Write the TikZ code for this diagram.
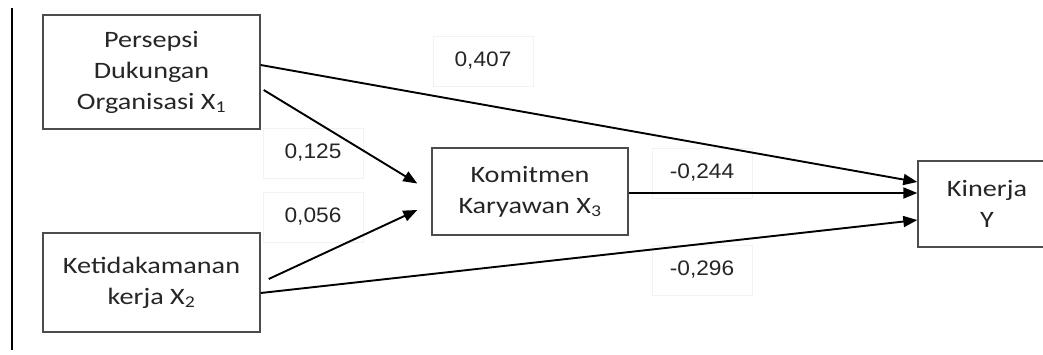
\documentclass[tikz,border=0pt]{standalone}
\usepackage{fontspec}
\usetikzlibrary{arrows.meta}
\newfontfamily\boxfont[FakeStretch=1.2]{Carlito}
\newfontfamily\lblfont[FakeStretch=1.08]{Liberation Sans}
\begin{document}
\begin{tikzpicture}[x=1pt,y=-1pt,
  varbox/.style={draw=black!70,line width=1.4pt,fill=white,inner sep=0pt,align=center,
    font=\boxfont\fontsize{23.5}{31}\selectfont,text=black!85},
  lbl/.style={draw=black!5,line width=0.6pt,inner sep=0pt,minimum width=100pt,minimum height=50pt,
    font=\lblfont\fontsize{21}{25}\selectfont,text=black!85},
  path/.style={line width=1.9pt,-{Triangle[length=14pt,width=11pt]}}]
\clip (0,0) rectangle (1043,354);
\fill[white] (0,0) rectangle (1043,354);
\draw[line width=1.4pt] (12,8) coordinate (bt) -- (12,350) coordinate (bb);
% labels
\node[lbl] (l1) at (483,61) {0,407};
\node[lbl] (l2) at (313,153) {0,125};
\node[lbl] (l3) at (313,217) {0,056};
\node[lbl] (l4) at (702,173) {-0,244};
\node[lbl] (l5) at (702,270) {-0,296};
% boxes
\node[varbox,minimum width=217pt,minimum height=114pt] (x1) at (151.5,72) {Persepsi\\Dukungan\\Organisasi X\textsubscript{1}};
\node[varbox,minimum width=217pt,minimum height=99pt] (x2) at (151.5,282.5) {Ketidakamanan\\kerja X\textsubscript{2}};
\node[varbox,minimum width=196pt,minimum height=87pt] (x3) at (530,191.5) {Komitmen\\Karyawan X\textsubscript{3}};
\node[varbox,minimum width=138pt,minimum height=86pt] (y) at (987,204) {Kinerja\\Y};
% paths
\draw[path] ([yshift=7pt]x1.east) -- ([yshift=22pt]y.west);
\draw[path] ([xshift=3pt,yshift=-18pt]x1.east) -- ([xshift=-14pt,yshift=8pt]x3.west);
\draw[path] ([xshift=8pt,yshift=3.5pt]x2.east) -- ([xshift=-14pt,yshift=-18.5pt]x3.west);
\draw[path] ([yshift=-10.5pt]x2.east) -- ([yshift=-16pt]y.west);
\draw[path] ([yshift=-1.5pt]x3.east) -- ([yshift=11pt]y.west);
\end{tikzpicture}
\end{document}
